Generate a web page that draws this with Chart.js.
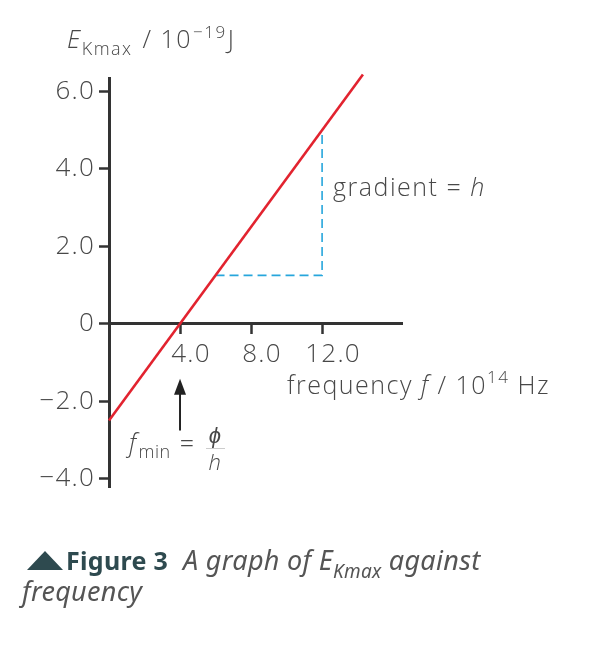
<!DOCTYPE html>
<html><head><meta charset="utf-8">
<script src="https://cdn.jsdelivr.net/npm/chart.js@4/dist/chart.umd.min.js"></script>
<style>html,body{margin:0;padding:0;background:#fff}#wrap{width:605px;height:656px;position:relative}</style>
</head><body><div id="wrap"><canvas id="c" width="605" height="656"></canvas></div>
<script>
// Data
const frequency = [0, 14.3];          // 10^14 Hz
const ekmax = [-2.5, 6.44];           // 10^-19 J
const gradF = [6, 12, 12];
const gradE = [1.25, 1.25, 5.0];
const xTicks = [4, 8, 12];
const yTicks = [-4, -2, 0, 2, 4, 6];

const FAM = "'Open Sans', sans-serif";
const GREY = '#484848';
const AXIS = '#333';

function fmt(v){ if (v === 0) return '0'; return (v < 0 ? '\u2212' : '') + Math.abs(v).toFixed(1); }

function runs(ctx, x, y, parts){
  for (const p of parts){
    ctx.font = p.font;
    ctx.fillStyle = p.color || GREY;
    const px = x + (p.dx || 0);
    ctx.fillText(p.t, px, y + (p.dy || 0));
    x = px + ctx.measureText(p.t).width;
  }
  return x;
}

const spacing = {
  id: 'spacing',
  beforeDraw(chart){ chart.ctx.letterSpacing = '1.2px'; },
  afterDraw(chart){ chart.ctx.letterSpacing = '0px'; }
};

const notes = {
  id: 'notes',
  afterDraw(chart){
    const ctx = chart.ctx, xs = chart.scales.x, ys = chart.scales.y;
    ctx.save();
    ctx.letterSpacing = '1.5px';
    ctx.textBaseline = 'alphabetic';
    ctx.textAlign = 'left';
    // y-axis title
    runs(ctx, 67, 48, [
      {t:'E', font:`italic 300 25px ${FAM}`},
      {t:'Kmax', font:`300 18px ${FAM}`, dy:7},
      {t:' / 10', font:`300 25px ${FAM}`, dx:2},
      {t:'\u221219', font:`300 17px ${FAM}`, dy:-10, dx:1},
      {t:'J', font:`300 25px ${FAM}`, dx:1}
    ]);
    // x-axis title
    runs(ctx, 287, 394, [
      {t:'frequency ', font:`300 25px ${FAM}`},
      {t:'f', font:`italic 300 25px ${FAM}`},
      {t:' / 10', font:`300 25px ${FAM}`},
      {t:'14', font:`300 17px ${FAM}`, dy:-11},
      {t:' Hz', font:`300 25px ${FAM}`}
    ]);
    // gradient label
    const gx = xs.getPixelForValue(12) + 11;
    const gy = ys.getPixelForValue(3.3);
    runs(ctx, gx, gy, [
      {t:'gradient = ', font:`300 25px ${FAM}`},
      {t:'h', font:`italic 300 25px ${FAM}`}
    ]);
    // arrow at f_min
    const ax = xs.getPixelForValue(4);
    const tip = ys.getPixelForValue(-1.42);
    const bot = ys.getPixelForValue(-2.76);
    ctx.strokeStyle = '#222'; ctx.fillStyle = '#222'; ctx.lineWidth = 2;
    ctx.beginPath(); ctx.moveTo(ax, bot); ctx.lineTo(ax, tip + 12); ctx.stroke();
    ctx.beginPath(); ctx.moveTo(ax, tip); ctx.lineTo(ax - 6, tip + 16); ctx.lineTo(ax + 6, tip + 16); ctx.closePath(); ctx.fill();
    // f_min = phi / h
    ctx.letterSpacing = '0.5px';
    runs(ctx, 129, 452, [
      {t:'f', font:`italic 300 25px ${FAM}`},
      {t:'min', font:`300 18px ${FAM}`, dy:6, dx:2},
      {t:' = ', font:`300 25px ${FAM}`, dx:2}
    ]);
    ctx.font = `italic 300 22px ${FAM}`; ctx.fillStyle = GREY; ctx.textAlign = 'center';
    ctx.fillText('\u03D5', 215, 443);
    ctx.fillText('h', 215, 470);
    ctx.strokeStyle = '#ccc'; ctx.lineWidth = 1;
    ctx.beginPath(); ctx.moveTo(206, 448.5); ctx.lineTo(225, 448.5); ctx.stroke();
    ctx.textAlign = 'left';
    // caption
    ctx.letterSpacing = '0.3px';
    ctx.fillStyle = '#2e4a4f';
    ctx.beginPath(); ctx.moveTo(27, 570); ctx.lineTo(45, 551); ctx.lineTo(63, 570); ctx.closePath(); ctx.fill();
    runs(ctx, 66, 570, [
      {t:'Figure 3', font:`bold 25px 'Noto Sans', sans-serif`, color:'#2e4a4f'},
      {t:'A graph of E', font:`italic 27px 'Noto Sans', sans-serif`, dx:15, color:'#555'},
      {t:'Kmax', font:`italic 19px 'Noto Sans', sans-serif`, dy:8, color:'#555'},
      {t:' against', font:`italic 27px 'Noto Sans', sans-serif`, color:'#555'}
    ]);
    runs(ctx, 22, 601, [
      {t:'frequency', font:`italic 27px 'Noto Sans', sans-serif`, color:'#555'}
    ]);
    ctx.restore();
  }
};

new Chart(document.getElementById('c'), {
  type: 'line',
  data: {
    datasets: [
      {
        data: frequency.map((f, i) => ({x: f, y: ekmax[i]})),
        borderColor: '#e2232f', borderWidth: 2.6, pointRadius: 0, fill: false, tension: 0
      },
      {
        data: gradF.map((f, i) => ({x: f, y: gradE[i]})),
        borderColor: '#27a6dc', borderWidth: 1.6, borderDash: [9, 5], pointRadius: 0, fill: false, tension: 0
      }
    ]
  },
  options: {
    responsive: false,
    devicePixelRatio: 1,
    animation: false,
    events: [],
    clip: false,
    layout: { padding: { top: 78, bottom: 169, left: 0, right: 203 } },
    plugins: { legend: { display: false }, tooltip: { enabled: false } },
    scales: {
      x: {
        type: 'linear', min: 0, max: 16.5,
        position: { y: 0 },
        afterBuildTicks: s => { s.ticks = xTicks.map(v => ({value: v})); },
        afterFit: s => { s.height = 0; },
        border: { display: true, color: AXIS, width: 3 },
        grid: { drawOnChartArea: false, drawTicks: true, tickLength: 9, tickWidth: 2.5, tickColor: AXIS },
        ticks: { callback: v => fmt(v), color: GREY, padding: 6, labelOffset: 11, maxRotation: 0,
                 font: { family: FAM, size: 26, weight: 300 } }
      },
      y: {
        type: 'linear', min: -4.22, max: 6.35,
        position: 'left',
        afterBuildTicks: s => { s.ticks = yTicks.map(v => ({value: v})); },
        afterFit: s => { s.width = 109; },
        border: { display: true, color: AXIS, width: 3 },
        grid: { drawOnChartArea: false, drawTicks: true, tickLength: 10, tickWidth: 2.5, tickColor: AXIS },
        ticks: { callback: v => fmt(v), color: GREY, padding: 4,
                 font: { family: FAM, size: 26, weight: 300 } }
      }
    }
  },
  plugins: [spacing, notes]
});
</script>
</body></html>
